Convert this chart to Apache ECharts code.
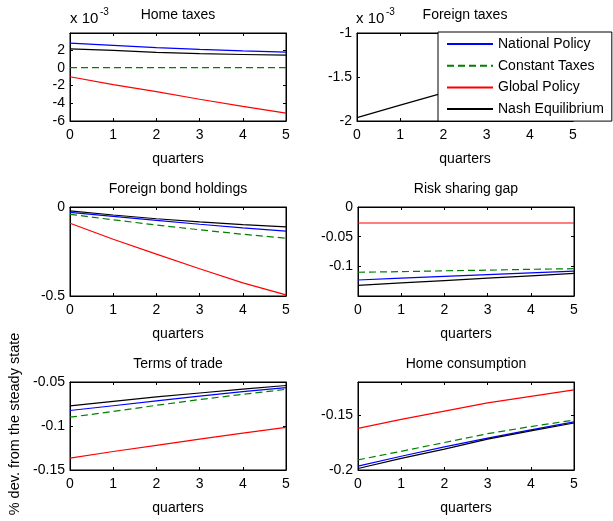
<!DOCTYPE html>
<html><head><meta charset="utf-8">
<script src="https://cdn.jsdelivr.net/npm/echarts@6/dist/echarts.min.js"></script>
<style>html,body{margin:0;padding:0;background:#fff}#c{width:613px;height:521px}</style>
</head><body><div id="c"></div>
<script>
// ---- data ----
const quarters = [0, 1, 2, 3, 4, 5];
const seriesNames = ['National Policy', 'Constant Taxes', 'Global Policy', 'Nash Equilibrium'];
const panelTitles = ['Home taxes', 'Foreign taxes', 'Foreign bond holdings', 'Risk sharing gap', 'Terms of trade', 'Home consumption'];

// Home taxes (x 10^-3)
const homeTaxesNational = [2.76, 2.50, 2.25, 2.05, 1.88, 1.74];
const homeTaxesConstant = [0, 0, 0, 0, 0, 0];
const homeTaxesGlobal   = [-1.02, -1.90, -2.70, -3.55, -4.35, -5.11];
const homeTaxesNash     = [2.11, 1.95, 1.72, 1.58, 1.48, 1.40];
// Foreign taxes (x 10^-3) - only Nash visible (rest hidden by legend)
const foreignTaxesNash  = [-1.962, -1.82, -1.68, -1.55, -1.43, -1.32];
// Foreign bond holdings
const bondNational = [-0.030, -0.053, -0.075, -0.097, -0.117, -0.136];
const bondConstant = [-0.041, -0.072, -0.101, -0.128, -0.153, -0.175];
const bondGlobal   = [-0.091, -0.181, -0.265, -0.347, -0.426, -0.494];
const bondNash     = [-0.022, -0.045, -0.066, -0.084, -0.099, -0.112];
// Risk sharing gap
const riskNational = [-0.123, -0.120, -0.117, -0.114, -0.111, -0.108];
const riskConstant = [-0.110, -0.109, -0.1075, -0.1065, -0.105, -0.104];
const riskGlobal   = [-0.027, -0.027, -0.027, -0.027, -0.027, -0.027];
const riskNash     = [-0.132, -0.128, -0.124, -0.120, -0.116, -0.112];
// Terms of trade
const totNational = [-0.0824, -0.077, -0.0715, -0.066, -0.061, -0.0563];
const totConstant = [-0.090, -0.0835, -0.0765, -0.070, -0.064, -0.0583];
const totGlobal   = [-0.1364, -0.129, -0.122, -0.115, -0.108, -0.1016];
const totNash     = [-0.0772, -0.072, -0.067, -0.0625, -0.058, -0.054];
// Home consumption
const consNational = [-0.1965, -0.1875, -0.179, -0.171, -0.1635, -0.1562];
const consConstant = [-0.1908, -0.183, -0.175, -0.167, -0.1605, -0.1546];
const consGlobal   = [-0.1621, -0.154, -0.1465, -0.139, -0.133, -0.1272];
const consNash     = [-0.1986, -0.1895, -0.181, -0.172, -0.1645, -0.1573];

// tick labels
const xTickLabels = [0, 1, 2, 3, 4, 5];
const homeTaxesTicks = [-6, -4, -2, 0, 2];
const foreignTaxesTicks = [-2, -1.5, -1];
const bondTicks = [-0.5, 0];
const riskTicks = [-0.1, -0.05, 0];
const totTicks = [-0.15, -0.1, -0.05];
const consTicks = [-0.2, -0.15];

// ---- layout / style ----
const colors = ['#0000ff', '#008000', '#ff0000', '#000000'];
const FONT = 'Liberation Sans, Arial, sans-serif';
const W = 216;
const panels = [
  { data: [homeTaxesNational, homeTaxesConstant, homeTaxesGlobal, homeTaxesNash], ticks: homeTaxesTicks, min: -6, max: 3.9, interval: 2, left: 70, top: 33, height: 88 },
  { data: [null, null, null, foreignTaxesNash], ticks: foreignTaxesTicks, min: -2, max: -1, interval: 0.5, left: 357, top: 33, height: 88 },
  { data: [bondNational, bondConstant, bondGlobal, bondNash], ticks: bondTicks, min: -0.5, max: 0, interval: 0.5, left: 70, top: 207, height: 89 },
  { data: [riskNational, riskConstant, riskGlobal, riskNash], ticks: riskTicks, min: -0.15, max: 0, interval: 0.05, left: 358, top: 207, height: 89 },
  { data: [totNational, totConstant, totGlobal, totNash], ticks: totTicks, min: -0.15, max: -0.05, interval: 0.05, left: 70, top: 382, height: 88 },
  { data: [consNational, consConstant, consGlobal, consNash], ticks: consTicks, min: -0.2, max: -0.12, interval: 0.05, left: 358, top: 382, height: 88 }
];

function fmt(v) { return String(+(+v).toFixed(4)); }
function inTicks(v, arr) { return arr.some(t => Math.abs(t - v) < 1e-9); }

const grid = [], xAxis = [], yAxis = [], series = [], graphic = [];
const axisLineStyle = { show: true, onZero: false, lineStyle: { color: '#000', width: 1 } };
const tickStyle = { show: true, inside: true, length: 3, lineStyle: { color: '#000', width: 1 } };
const labelStyle = { color: '#000', fontSize: 14, fontFamily: FONT };

panels.forEach((p, i) => {
  grid.push({ left: p.left, top: p.top, width: W, height: p.height, containLabel: false, outerBoundsMode: 'none',
    show: true, borderColor: '#000', borderWidth: 1, backgroundColor: '#fff' });
  xAxis.push({ gridIndex: i, type: 'value', position: 'bottom', min: 0, max: 5, interval: 1,
    axisLine: axisLineStyle, axisTick: tickStyle, splitLine: { show: false },
    axisLabel: Object.assign({ margin: 7, formatter: v => inTicks(v, xTickLabels) ? fmt(v) : '' }, labelStyle),
    name: 'quarters', nameLocation: 'middle', nameGap: 31, nameTextStyle: labelStyle });
  xAxis.push({ gridIndex: i, type: 'value', position: 'top', min: 0, max: 5, interval: 1,
    axisLine: axisLineStyle, axisTick: tickStyle, splitLine: { show: false }, axisLabel: { show: false } });
  yAxis.push({ gridIndex: i, type: 'value', position: 'left', min: p.min, max: p.max, interval: p.interval,
    axisLine: axisLineStyle, axisTick: tickStyle, splitLine: { show: false },
    axisLabel: Object.assign({ margin: 5, formatter: v => inTicks(v, p.ticks) ? fmt(v) : '' }, labelStyle) });
  yAxis.push({ gridIndex: i, type: 'value', position: 'right', min: p.min, max: p.max, interval: p.interval,
    axisLine: axisLineStyle, axisTick: tickStyle, splitLine: { show: false }, axisLabel: { show: false } });
  p.data.forEach((arr, k) => {
    if (!arr) return;
    series.push({ type: 'line', name: seriesNames[k], xAxisIndex: 2 * i, yAxisIndex: 2 * i,
      data: quarters.map((q, j) => [q, arr[j]]), symbol: 'none', clip: true, z: 3,
      color: colors[k], itemStyle: { color: colors[k] },
      lineStyle: { color: colors[k], width: 1.2, type: k === 1 ? [7, 4] : 'solid' } });
  });
  graphic.push({ type: 'text', x: p.left + W / 2, y: p.top - 18, z: 20,
    style: { text: panelTitles[i], fill: '#000', font: '14px ' + FONT, textAlign: 'center', textVerticalAlign: 'middle' } });
});

// exponent labels
[[70, 19], [356, 19]].forEach(([x, y]) => {
  graphic.push({ type: 'text', x: x, y: y, style: { text: 'x 10', fill: '#000', font: '15px ' + FONT, textAlign: 'left', textVerticalAlign: 'middle' } });
  graphic.push({ type: 'text', x: x + 30, y: y - 7, style: { text: '-3', fill: '#000', font: '10px ' + FONT, textAlign: 'left', textVerticalAlign: 'middle' } });
});
// y axis label
graphic.push({ type: 'text', x: 15, y: 424, rotation: Math.PI / 2,
  style: { text: '% dev. from the steady state', fill: '#000', font: '14.5px ' + FONT, textAlign: 'center', textVerticalAlign: 'middle' } });

const chart = echarts.init(document.getElementById('c'), null, { renderer: 'canvas' });
chart.setOption({
  animation: false,
  backgroundColor: '#fff',
  grid, xAxis, yAxis, series, graphic,
  legend: { data: seriesNames, orient: 'vertical', left: 438, top: 32, padding: [5, 8, 5, 8],
    itemWidth: 46, itemHeight: 14, itemGap: 7.7, backgroundColor: '#fff', borderColor: '#000', borderWidth: 1,
    borderRadius: 0, textStyle: { color: '#000', fontSize: 14, fontFamily: FONT }, z: 10, selectedMode: false,
    itemStyle: { color: 'rgba(0,0,0,0)', borderColor: 'rgba(0,0,0,0)', borderWidth: 0, opacity: 0 } }
});
</script></body></html>
